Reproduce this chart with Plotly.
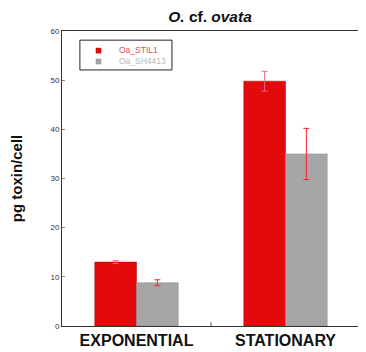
import plotly.graph_objects as go

categories = ["EXPONENTIAL", "STATIONARY"]
series_names = ["Oa_STIL1", "Oa_SH4413"]
st_values = [13.0, 49.8]
st_errors = [0.3, 2.0]
sh_values = [8.8, 35.0]
sh_errors = [0.6, 5.2]
y_ticks = [0, 10, 20, 30, 40, 50, 60]
st_color = "#e20a0a"
sh_color = "#a6a6a6"

W, H = 358, 344  # page body adds an 8px offset

fig = go.Figure()
fig.add_trace(go.Bar(
    x=categories, y=st_values, name=series_names[0], showlegend=False,
    marker=dict(color=st_color, line=dict(color="#b00000", width=0.5)),
    error_y=dict(type="data", array=st_errors, visible=True, color="#e07080", thickness=1, width=3),
))
fig.add_trace(go.Bar(
    x=categories, y=sh_values, name=series_names[1], showlegend=False,
    marker=dict(color=sh_color, line=dict(color="#8a8a8a", width=0.5)),
    error_y=dict(type="data", array=sh_errors, visible=True, color="#ff2030", thickness=1, width=3),
))

# legend drawn as a small boxed key
fig.add_shape(type="rect", xref="paper", yref="paper", x0=0.06, x1=0.369, y0=0.868, y1=0.969,
              line=dict(color="#222", width=1), fillcolor="white")
fig.add_shape(type="rect", xref="paper", yref="paper", x0=0.114, x1=0.131, y0=0.925, y1=0.942,
              line=dict(color="#b00000", width=0.5), fillcolor=st_color)
fig.add_shape(type="rect", xref="paper", yref="paper", x0=0.114, x1=0.131, y0=0.888, y1=0.905,
              line=dict(color="#8a8a8a", width=0.5), fillcolor=sh_color)
fig.add_annotation(xref="paper", yref="paper", x=0.185, y=0.934, xanchor="left", yanchor="middle",
                   text=series_names[0], showarrow=False, font=dict(size=8.5, color="#e0505a"))
fig.add_annotation(xref="paper", yref="paper", x=0.185, y=0.897, xanchor="left", yanchor="middle",
                   text=series_names[1], showarrow=False, font=dict(size=8.5, color="#b8b8b8"))

fig.update_layout(
    width=W, height=H,
    margin=dict(l=54, r=6, t=23, b=26, autoexpand=False),
    paper_bgcolor="white", plot_bgcolor="white",
    barmode="group", bargap=0.44, bargroupgap=0,
    title=dict(text="<b><i>O.</i> cf. <i>ovata</i></b>", x=202 / W, xanchor="center", y=1 - 3 / H, yanchor="top",
               font=dict(family="Liberation Sans, Arial", size=15.5, color="#111")),
    font=dict(family="Liberation Sans, Arial", color="#222"),
    showlegend=False,
    xaxis=dict(range=[-0.5, 1.5], showline=True, linecolor="#333", linewidth=1, mirror=True,
               ticks="", automargin=False, tickfont=dict(size=16, family="Liberation Sans, Arial", color="#111"),
               tickprefix="<b>", ticksuffix="</b>", ticklabelstandoff=0),
    yaxis=dict(range=[0, 60], tickvals=y_ticks, showline=True, linecolor="#333", linewidth=1, mirror=True,
               ticks="inside", ticklen=3, tickcolor="#888", showgrid=False, zeroline=False, automargin=False,
               tickfont=dict(size=8, color="#333"),
               title=dict(text="<b>pg toxin/cell</b>", font=dict(size=15, color="#111"), standoff=29)),
)
fig.add_shape(type="line", xref="x", yref="paper", x0=0.5, x1=0.5, y0=0, y1=0.012,
              line=dict(color="#444", width=1))
fig.write_html("out.html")
